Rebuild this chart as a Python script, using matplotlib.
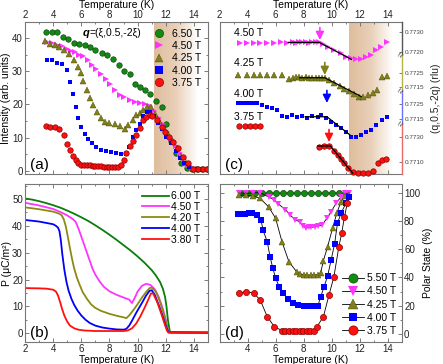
import numpy as np
import matplotlib
matplotlib.use('Agg')
import matplotlib.pyplot as plt
from matplotlib.colors import LinearSegmentedColormap
from matplotlib.ticker import MultipleLocator

plt.rcParams['font.family'] = ['Liberation Sans', 'DejaVu Sans']

# ---------------- panel (a): neutron intensity ----------------
a_labels = ['6.50 T', '4.50 T', '4.25 T', '4.00 T', '3.75 T']
a_T_650 = [3.5, 3.9, 4.3, 4.7, 5.05, 5.45, 5.85, 6.25, 6.6, 7.0, 7.45, 7.85, 8.25, 8.65, 9.05, 9.45,
           9.8, 10.15, 10.5, 10.85, 11.3, 11.7, 12.05, 12.4, 12.75, 13.1, 13.5, 13.85, 14.2, 14.6, 14.95]
a_I_650 = [41.7, 41.8, 41.8, 40.2, 39.8, 38.4, 38.1, 37.9, 37.4, 36.4, 35.6, 34.8, 33.8, 31.8, 30.1, 29.1,
           26.3, 25.3, 24.3, 23.0, 21.0, 19.3, 14.0, 9.0, 5.5, 2.3, 0.8, 0.6, 0.5, 0.5, 0.5]
a_T_450 = [3.55, 3.9, 4.25, 4.6, 4.95, 5.25, 5.55, 5.85, 6.15, 6.45, 6.75, 7.05, 7.4, 7.75, 8.05, 8.4, 8.75,
           9.05, 9.45, 9.8, 10.15, 10.5, 10.85, 11.2, 11.5, 11.8, 12.1, 12.4, 12.7, 13.0, 13.3, 13.6, 13.9]
a_I_450 = [38.8, 38.5, 38.0, 37.5, 36.6, 36.2, 35.8, 35.0, 34.5, 33.3, 31.8, 30.8, 29.3, 27.8, 26.3, 24.3, 22.8,
           22.3, 21.3, 20.8, 20.3, 20.0, 19.5, 18.0, 16.0, 14.0, 11.8, 9.6, 7.5, 5.5, 3.5, 1.8, 0.8]
a_T_425 = [3.45, 3.8, 4.15, 4.45, 4.75, 5.1, 5.45, 5.75, 6.0, 6.15, 6.4, 6.6, 6.85, 7.1, 7.4, 7.7, 8.0, 8.4,
           8.75, 9.1, 9.35, 9.65, 9.9, 10.15, 10.4, 10.7, 10.95, 11.25, 11.55, 11.85, 12.15, 12.45, 12.8,
           13.1, 13.45, 13.8, 14.15]
a_I_425 = [39.0, 38.3, 37.8, 37.3, 36.3, 35.1, 33.3, 31.3, 29.5, 27.0, 24.5, 22.0, 19.8, 17.8, 16.0, 14.8, 14.4,
           14.0, 13.4, 12.7, 13.7, 15.4, 16.7, 17.5, 18.4, 19.3, 19.2, 17.2, 15.0, 13.0, 11.0, 9.0, 6.8,
           4.6, 2.5, 1.0, 0.6]
a_T_400 = [3.55, 3.9, 4.25, 4.6, 4.95, 5.2, 5.4, 5.6, 5.8, 6.0, 6.25, 6.5, 6.75, 7.05, 7.4, 7.75, 8.1, 8.45,
           8.8, 9.15, 9.4, 9.65, 9.9, 10.15, 10.4, 10.65, 10.9, 11.15, 11.45, 11.75, 12.05, 12.35, 12.7,
           13.0, 13.3, 13.65, 14.0, 14.35, 14.7]
a_I_400 = [33.3, 33.3, 32.5, 32.3, 30.3, 26.8, 23.1, 19.3, 16.0, 13.2, 11.2, 9.7, 8.4, 7.2, 6.4, 6.0, 5.7, 5.4,
           5.2, 5.2, 7.2, 10.2, 12.2, 14.2, 16.5, 17.8, 17.8, 16.5, 14.5, 12.5, 10.3, 8.3, 6.0,
           4.0, 2.5, 1.2, 0.7, 0.6, 0.6]
a_T_375 = [3.5, 3.8, 4.1, 4.4, 4.75, 5.0, 5.2, 5.4, 5.6, 5.8, 6.0, 6.2, 6.4, 6.6, 6.8, 7.0, 7.2, 7.4, 7.6, 7.8,
           8.0, 8.2, 8.4, 8.6, 8.8, 9.0, 9.2, 9.45, 9.7, 9.9, 10.15, 10.4, 10.6, 10.85, 11.05, 11.35, 11.7,
           11.95, 12.2, 12.55, 12.9, 13.25, 13.6, 13.95, 14.3, 14.65, 14.95]
a_I_375 = [13.4, 13.2, 13.2, 12.7, 10.7, 8.2, 6.2, 4.4, 3.3, 2.4, 1.9, 1.7, 1.7, 1.8, 1.6, 1.5, 1.4, 1.5, 1.3, 1.2,
           1.3, 1.2, 1.2, 1.3, 1.7, 3.2, 5.4, 7.4, 9.0, 10.8, 13.0, 15.2, 16.3, 16.8, 16.6, 15.3, 13.3,
           11.8, 10.3, 8.8, 6.8, 4.3, 2.3, 0.6, 0.6, 0.6, 0.6]

# ---------------- panel (b): polarization ----------------
b_labels = ['6.00 T', '4.50 T', '4.20 T', '4.00 T', '3.80 T']
b_T_600 = [2, 2.5, 3, 3.5, 4, 4.5, 5, 5.5, 6, 6.5, 7, 7.5, 8, 8.5, 9, 9.5, 10, 10.5, 11, 11.3, 11.6, 11.8,
           11.95, 12.05, 12.15, 12.3, 13, 14, 15]
b_P_600 = [50.2, 49.8, 49.2, 48.5, 47.7, 46.8, 45.7, 44.5, 43.2, 41.8, 40.2, 38.5, 36.7, 34.8, 32.8, 30.8,
           28.6, 26.2, 23.5, 21.5, 19.0, 16.5, 13.5, 10.0, 5.0, 0.3, 0.2, 0.2, 0.2]
b_T_450 = [2, 3, 4, 4.5, 5, 5.2, 5.4, 5.6, 5.8, 6.0, 6.2, 6.4, 6.6, 6.8, 7.0, 7.3, 7.6, 8.0, 8.5, 9.0, 9.4,
           9.6, 9.8, 10.0, 10.3, 10.6, 10.9, 11.2, 11.5, 11.8, 12.0, 12.15, 12.3, 15]
b_P_450 = [48.6, 47.6, 46.3, 45.2, 43.9, 43.2, 42.5, 41.5, 39.0, 36.0, 33.0, 30.0, 27.0, 24.0, 21.8, 19.3,
           17.3, 15.6, 14.3, 13.3, 12.5, 11.2, 13.2, 15.5, 17.6, 18.4, 18.0, 16.5, 13.5, 9.0, 5.0, 1.0, 0.3, 0.2]
b_T_420 = [2, 3, 4, 4.4, 4.6, 4.75, 4.9, 5.05, 5.2, 5.35, 5.5, 5.7, 5.9, 6.1, 6.4, 6.7, 7.0, 7.4, 8.0, 8.5,
           9.0, 9.2, 9.4, 9.7, 10.0, 10.3, 10.6, 10.85, 11.0, 11.3, 11.6, 11.9, 12.1, 12.2, 15]
b_P_420 = [46.9, 46.2, 45.3, 44.6, 44.0, 42.5, 39.8, 35.8, 31.5, 27.5, 24.0, 20.5, 17.8, 15.3, 12.8, 10.7,
           9.4, 8.3, 7.2, 6.5, 5.9, 5.6, 6.6, 8.6, 10.8, 13.2, 15.3, 16.8, 17.0, 15.5, 11.5, 6.5, 2.5, 0.4, 0.2]
b_T_400 = [2, 3, 4, 4.2, 4.35, 4.45, 4.55, 4.65, 4.8, 4.95, 5.1, 5.3, 5.5, 5.75, 6.0, 6.3, 6.6, 7.0, 7.5,
           8.0, 8.5, 9.0, 9.2, 9.4, 9.6, 9.8, 10.0, 10.3, 10.6, 10.85, 11.0, 11.2, 11.5, 11.8, 12.05, 12.2, 15]
b_P_400 = [42.2, 41.6, 40.6, 40.0, 39.3, 38.0, 34.5, 29.5, 23.5, 19.0, 15.8, 12.8, 10.5, 8.3, 6.6, 5.0,
           3.8, 2.8, 2.1, 1.7, 1.4, 1.3, 1.6, 2.8, 4.6, 6.6, 8.5, 11.2, 14.0, 15.8, 16.0, 14.5, 10.5, 6.0,
           2.0, 0.3, 0.2]
b_T_380 = [2, 3, 3.5, 4.0, 4.2, 4.35, 4.5, 4.65, 4.8, 5.0, 5.2, 5.5, 5.8, 6.2, 7, 8, 9, 9.3, 9.6, 9.9, 10.2,
           10.5, 10.8, 10.95, 11.1, 11.4, 11.7, 11.95, 12.1, 12.2, 15]
b_P_380 = [16.8, 16.7, 16.6, 16.2, 15.5, 14.0, 11.5, 8.8, 6.5, 4.3, 2.8, 1.8, 1.3, 1.0, 0.8, 0.8, 0.8, 1.0,
           1.8, 3.6, 6.3, 9.5, 13.0, 14.8, 14.8, 11.5, 7.0, 3.0, 0.8, 0.2, 0.2]

# ---------------- panel (c): propagation vector ----------------
c_labels = ['4.50 T', '4.25 T', '4.00 T', '3.75 T']
c_T_450 = [3.45, 3.95, 4.45, 4.9, 5.4, 5.85, 6.35, 6.8, 7.2, 7.45, 7.65, 7.9, 8.15, 8.4, 8.6, 8.85, 9.1,
           9.4, 9.7, 10.15, 10.65, 11.0, 11.35, 11.75, 12.1, 12.45, 12.8, 13.15, 13.5, 13.9]
c_q_450 = [0.77243, 0.77244, 0.77245, 0.77246, 0.77247, 0.77244, 0.77248, 0.77246, 0.77249, 0.77247,
           0.7725, 0.77248, 0.77249, 0.77247, 0.7725, 0.77251, 0.77252, 0.77242, 0.77227, 0.7721,
           0.77193, 0.77177, 0.77168, 0.77163, 0.77163, 0.77173, 0.77185, 0.7721, 0.77227, 0.77252]
c_T_425 = [3.35, 3.95, 4.43, 4.9, 5.39, 5.87, 6.46, 6.94, 7.2, 7.42, 7.66, 7.9, 8.14, 8.38, 8.62, 8.86,
           9.1, 9.3, 9.5, 9.8, 10.15, 10.55, 10.9, 11.25, 11.6, 11.95, 12.2, 12.55, 12.9, 13.25, 13.6, 13.9]
c_q_425 = [0.77236, 0.77237, 0.77235, 0.77236, 0.77237, 0.77236, 0.77235, 0.77205, 0.77215, 0.77219,
           0.77218, 0.77217, 0.77218, 0.77216, 0.77215, 0.77217, 0.77214, 0.77213, 0.77212, 0.7720,
           0.77179, 0.77157, 0.77138, 0.77119, 0.77102, 0.7708, 0.77076, 0.77095, 0.7711, 0.7713,
           0.77219, 0.77226]
c_T_400 = [3.35, 3.6, 3.85, 4.1, 4.4, 4.7, 5.03, 5.39, 5.75, 6.1, 6.46, 6.82, 7.18, 7.54, 7.9, 8.26, 8.62,
           8.98, 9.2, 9.57, 9.93, 10.29, 10.65, 11.0, 11.37, 11.73, 12.09, 12.45, 12.8, 13.16, 13.6, 13.9]
c_q_400 = [0.77259, 0.77259, 0.7726, 0.77258, 0.77257, 0.77255, 0.77243, 0.77232, 0.77221, 0.7721,
           0.7717, 0.77165, 0.77177, 0.77162, 0.77168, 0.77155, 0.77168, 0.77162, 0.77177, 0.77155,
           0.77132, 0.7711, 0.77088, 0.77065, 0.77032, 0.77032, 0.77043, 0.77065, 0.77077, 0.7711,
           0.77143, 0.77165]
c_T_375 = [3.4, 3.8, 4.15, 4.5, 4.9, 9.1, 9.45, 9.81, 10.12, 10.41, 10.65, 10.89, 11.18, 11.49, 11.85,
           12.21, 12.56, 12.92, 13.28, 13.59, 13.88]
c_q_375 = [0.77388, 0.77388, 0.77388, 0.77387, 0.77386, 0.77222, 0.77228, 0.77228, 0.7719, 0.77156,
           0.77122, 0.7709, 0.7705, 0.77022, 0.7701, 0.77014, 0.77014, 0.7703, 0.7709, 0.77116, 0.77122]
# linear fits (knots) and transition arrows
c_fit_T = [[6.9, 9.1, 11.4], [7.7, 9.5, 12.1], [8.1, 9.65, 11.3], [9.0, 9.9, 11.5]]
c_fit_q = [[0.77248, 0.77248, 0.77163], [0.77216, 0.77216, 0.77081],
           [0.77165, 0.77165, 0.77043], [0.77228, 0.77228, 0.7701]]
c_arrow_T = [9.15, 9.5, 9.65, 9.8]
c_arrow_q = [0.7726, 0.77236, 0.77257, 0.7726]
c_ylims = [(0.77185, 0.7735), (0.771214, 0.773786), (0.771167, 0.773367), (0.77004, 0.77404)]
c_ticks = [[0.7730, 0.7720], [0.7725, 0.7715], [0.7725, 0.7715], [0.7730, 0.7710]]

# ---------------- panel (d): polar fraction ----------------
d_labels = ['5.50 T', '4.50 T', '4.25 T', '4.00 T', '3.75 T']
d_T_550 = [3.5, 4.0, 4.5, 5.0, 5.5, 6.0, 6.5, 7.0, 7.5, 8.0, 8.5, 9.0, 9.5, 10.0, 10.5, 11.0]
d_P_550 = [99.6, 99.8, 99.7, 99.8, 99.8, 99.7, 99.8, 99.8, 99.7, 99.8, 99.8, 99.8, 99.7, 99.8, 99.8, 99.6]
d_T_450 = [3.4, 3.9, 4.4, 4.9, 5.5, 5.9, 6.2, 6.7, 7.05, 7.4, 7.75, 7.95, 8.15, 8.35, 8.55, 8.8, 9.05, 9.3,
           9.65, 9.95, 10.3, 10.65, 10.95, 11.25]
d_P_450 = [100, 99.5, 100, 100, 97, 95, 92, 88, 84, 81, 79, 76.5, 75, 75.5, 75.5, 76, 76.5, 77,
           82, 86.6, 92.5, 97, 99.5, 99.5]
d_T_425 = [3.4, 3.9, 4.4, 4.9, 5.5, 6.0, 6.45, 6.95, 7.5, 7.75, 8.0, 8.25, 8.5, 8.75, 9.0, 9.2, 9.4, 9.7,
           10.05, 10.35, 10.65, 10.95, 11.25]
d_P_425 = [98.3, 98.3, 97.6, 96, 90, 81.8, 65.3, 51, 44, 42.5, 42, 41.7, 41.7, 41.7, 42, 43, 52, 61.8,
           74.8, 85.4, 93.6, 97.6, 98.3]
d_T_400 = [3.35, 3.6, 3.85, 4.1, 4.35, 4.65, 4.95, 5.1, 5.4, 5.6, 5.8, 6.0, 6.25, 6.55, 6.85, 7.2, 7.6,
           8.0, 8.25, 8.5, 8.75, 9.0, 9.2, 9.45, 9.7, 9.95, 10.2, 10.4, 10.65, 11.0, 11.25]
d_P_400 = [85, 85, 85, 85.4, 85.4, 84.2, 81, 73.6, 65.3, 54.7, 46.5, 39.4, 33.5, 28.8, 24.5, 21.7, 20.5,
           19.8, 20, 19.8, 19.8, 19.8, 26, 33.5, 41, 52.4, 64, 78.3, 85.4, 92.5, 97]
d_T_375 = [3.4, 3.9, 4.45, 4.9, 5.4, 5.9, 6.45, 6.7, 6.95, 7.2, 7.45, 7.7, 7.95, 8.2, 8.45, 8.7, 8.95,
           9.4, 9.8, 10.15, 10.5, 10.7, 10.9, 11.1]
d_P_375 = [28.8, 30, 28.8, 24, 12.3, 5.2, 2.4, 2.2, 2.1, 2.1, 2.1, 2.1, 2.1, 2.1, 2.1, 2.4, 5.2,
           12.3, 27.6, 40.6, 61.8, 71.2, 83, 92.5]

# styles
green, magenta, olive, blue, red = '#138a13', '#ff33ff', '#80801a', '#0000ff', '#ff1010'
shade_cmap = LinearSegmentedColormap.from_list('shade', ['#dfbd9c', '#e9d0b8', '#ffffff'])


def style(ax):
    ax.tick_params(which='both', direction='in', top=True, right=True, colors='#666',
                   labelcolor='#222', labelsize=7, width=0.6, pad=1.5)
    ax.tick_params(which='major', length=3)
    ax.tick_params(which='minor', length=1.6)
    for s in ax.spines.values():
        s.set_color('#777')
        s.set_linewidth(0.8)
    ax.set_xlim(2, 15)
    ax.xaxis.set_major_locator(MultipleLocator(2))
    ax.xaxis.set_minor_locator(MultipleLocator(1))


def shade(ax, y0, y1):
    grad = np.linspace(0, 1, 256).reshape(1, -1)
    ax.imshow(grad, cmap=shade_cmap, extent=[11.2, 14.3, y0, y1], aspect='auto', zorder=0)


fig = plt.figure(figsize=(4.43, 3.64), dpi=100)
ax_a = fig.add_axes([0.0564, 0.5220, 0.4131, 0.4176])
ax_b = fig.add_axes([0.0564, 0.0604, 0.4131, 0.4341])
ax_c = fig.add_axes([0.4955, 0.5220, 0.4120, 0.4176])
ax_d = fig.add_axes([0.4955, 0.0604, 0.4120, 0.4341])

# ---- (a)
style(ax_a)
ax_a.set_ylim(-0.9, 44.8)
shade(ax_a, -0.9, 44.8)
ms = 3.9
ax_a.plot(a_T_650, a_I_650, 'o', color=green, mec='#0a4a0a', mew=0.5, ms=ms, label=a_labels[0])
ax_a.plot(a_T_450, a_I_450, '>', color=magenta, mec=magenta, mew=0, ms=ms, label=a_labels[1])
ax_a.plot(a_T_425, a_I_425, '^', color=olive, mec='#4a4a00', mew=0.3, ms=ms, label=a_labels[2])
ax_a.plot(a_T_400, a_I_400, 's', color=blue, mec=blue, mew=0, ms=ms - 0.4, label=a_labels[3])
ax_a.plot(a_T_375, a_I_375, 'o', color=red, mec='#8b0000', mew=0.5, ms=ms, label=a_labels[4])
ax_a.yaxis.set_major_locator(MultipleLocator(10))
ax_a.yaxis.set_minor_locator(MultipleLocator(5))
ax_a.tick_params(labeltop=True, labelbottom=False)
ax_a.xaxis.set_label_position('top')
ax_a.set_xlabel('Temperature (K)', fontsize=7.5, labelpad=1.5)
ax_a.set_ylabel('Intensity (arb. units)', fontsize=7.5)
ax_a.yaxis.set_label_coords(-0.075, 0.5)
ax_a.legend(loc='upper right', frameon=False, fontsize=7.5, markerscale=1.5, handletextpad=0.7,
            labelspacing=0.22, borderaxespad=0.25, handlelength=1.0)
ax_a.text(6.1, 41.6, 'q', fontsize=8, fontweight='bold', fontstyle='italic', va='center')
ax_a.annotate('=(ξ,0.5,-2ξ)', xy=(6.1, 41.6), xytext=(5, 0), textcoords='offset points',
              fontsize=7.5, va='center')
ax_a.text(0.03, 0.03, '(a)', transform=ax_a.transAxes, fontsize=11)

# ---- (b)
style(ax_b)
ax_b.set_ylim(-3.3, 55.6)
ax_b.plot(b_T_600, b_P_600, color='#0a7d0a', lw=1.3, label=b_labels[0])
ax_b.plot(b_T_450, b_P_450, color='#ff33ff', lw=1.3, label=b_labels[1])
ax_b.plot(b_T_420, b_P_420, color='#8b8b14', lw=1.3, label=b_labels[2])
ax_b.plot(b_T_400, b_P_400, color='#0000ff', lw=1.3, label=b_labels[3])
ax_b.plot(b_T_380, b_P_380, color='#ff1010', lw=1.3, label=b_labels[4])
ax_b.yaxis.set_major_locator(MultipleLocator(10))
ax_b.yaxis.set_minor_locator(MultipleLocator(5))
ax_b.set_xlabel('Temperature (K)', fontsize=7.5, labelpad=0.5)
ax_b.set_ylabel('P (μC/m²)', fontsize=7.5)
ax_b.yaxis.set_label_coords(-0.07, 0.5)
ax_b.legend(loc='upper right', frameon=False, fontsize=7.5, handlelength=2.6, handletextpad=0.2,
            labelspacing=0.08, borderaxespad=0.3)
ax_b.text(0.03, 0.03, '(b)', transform=ax_b.transAxes, fontsize=11)

# ---- (c)
style(ax_c)
ax_c.set_ylim(0, 1)
ax_c.spines['right'].set_visible(False)
ax_c.tick_params(axis='y', which='both', left=False, right=False, labelleft=False)
ax_c.tick_params(labeltop=True, labelbottom=False)
ax_c.xaxis.set_label_position('top')
ax_c.set_xlabel('Temperature (K)', fontsize=7.5, labelpad=1.5)
shade(ax_c, 0, 1)
ax_c.text(0.03, 0.03, '(c)', transform=ax_c.transAxes, fontsize=11)
label_y = [0.925, 0.728, 0.524, 0.373]
for lab, ly in zip(c_labels, label_y):
    ax_c.text(0.08, ly, lab, transform=ax_c.transAxes, fontsize=7.5, va='center')

seg_pix = [(22, 55), (55, 91), (91, 124), (124, 174)]
seg_colors = ['#555555', '#b4b446', '#6f6fff', '#e86a6a']
series = [(c_T_450, c_q_450, '>', magenta, 0), (c_T_425, c_q_425, '^', olive, 0.3),
          (c_T_400, c_q_400, 's', blue, 0), (c_T_375, c_q_375, 'o', red, 0.5)]
edge = [magenta, '#4a4a00', blue, '#8b0000']
for i, (top, bot) in enumerate(seg_pix):
    sax = fig.add_axes([0.4955, 1 - bot / 364, 0.4120, (bot - top) / 364])
    sax.patch.set_visible(False)
    sax.set_xlim(2, 15)
    sax.set_ylim(*c_ylims[i])
    for k in ['top', 'bottom', 'left']:
        sax.spines[k].set_visible(False)
    sax.spines['right'].set_color(seg_colors[i])
    sax.spines['right'].set_linewidth(1.0)
    sax.xaxis.set_visible(False)
    sax.yaxis.tick_right()
    sax.set_yticks(c_ticks[i])
    sax.set_yticklabels(['%.4f' % v for v in c_ticks[i]])
    sax.tick_params(axis='y', direction='in', length=2.5, width=0.6, colors='#666',
                    labelcolor='#444', labelsize=4.6, pad=2)
    T, q, m, col, mw = series[i]
    sax.plot(T, q, m, color=col, mec=edge[i], mew=mw, ms=ms - (0.4 if m == 's' else 0), clip_on=False)
    sax.plot(c_fit_T[i], c_fit_q[i], '-', color='k', lw=0.9, clip_on=False)
    sax.annotate('', xy=(c_arrow_T[i], c_arrow_q[i]), xytext=(0, 9), textcoords='offset points',
                 arrowprops=dict(arrowstyle='-|>,head_width=0.3,head_length=0.6', color=col, lw=1.2,
                                 mutation_scale=8, shrinkA=0, shrinkB=0))
    if i > 0:
        fig.text(402 / 443, 1 - top / 364, '≈', fontsize=7, rotation=60, ha='center', va='center',
                 color='#555')
fig.text(0.985, 1 - 98 / 364, '(q,0.5,-2q) (rlu)', rotation=90, fontsize=7.5, ha='center',
         va='center', color='#222')

# ---- (d)
style(ax_d)
ax_d.set_ylim(-5.7, 106.2)
mk = 4.4
ax_d.plot(d_T_550, d_P_550, '-o', color='k', lw=0.6, mfc=green, mec='#0a4a0a', mew=0.5, ms=mk, label=d_labels[0])
ax_d.plot(d_T_450, d_P_450, '-v', color='k', lw=0.6, mfc=magenta, mec=magenta, mew=0, ms=mk, label=d_labels[1])
ax_d.plot(d_T_425, d_P_425, '-^', color='k', lw=0.6, mfc=olive, mec='#4a4a00', mew=0.3, ms=mk, label=d_labels[2])
ax_d.plot(d_T_400, d_P_400, '-s', color='k', lw=0.6, mfc=blue, mec=blue, mew=0, ms=mk - 0.5, label=d_labels[3])
ax_d.plot(d_T_375, d_P_375, '-o', color='k', lw=0.6, mfc=red, mec='#8b0000', mew=0.5, ms=mk, label=d_labels[4])
ax_d.yaxis.set_major_locator(MultipleLocator(20))
ax_d.yaxis.set_minor_locator(MultipleLocator(10))
ax_d.tick_params(labelleft=False, labelright=True)
ax_d.yaxis.set_label_position('right')
ax_d.set_ylabel('Polar State (%)', fontsize=7.5, labelpad=2)
ax_d.set_xlabel('Temperature (K)', fontsize=7.5, labelpad=0.5)
ax_d.set_xticks([4, 6, 8, 10, 12, 14])
ax_d.legend(loc='lower right', frameon=False, fontsize=7.5, markerscale=1.5, handlelength=2.2,
            handletextpad=0.2, labelspacing=0.3, borderaxespad=0.2)
ax_d.text(0.03, 0.03, '(d)', transform=ax_d.transAxes, fontsize=11)

fig.savefig('out.png', dpi=100)
